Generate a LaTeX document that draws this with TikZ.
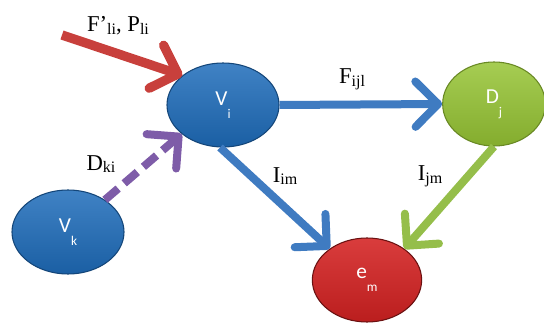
\documentclass[tikz,border=0pt]{standalone}
\usepackage{fontspec}
\setmainfont{Liberation Serif}
\newfontfamily\nodefont{Carlito}
\usetikzlibrary{arrows.meta,shapes.geometric}
\definecolor{nodeblue}{RGB}{30,108,186}
\definecolor{nodegreen}{RGB}{150,196,52}
\definecolor{nodered}{RGB}{212,34,34}
\definecolor{arrowred}{RGB}{200,64,60}
\definecolor{arrowblue}{RGB}{63,123,193}
\definecolor{arrowgreen}{RGB}{149,190,74}
\definecolor{arrowpurple}{RGB}{126,92,168}
\newcommand{\nodelabel}[2]{{\nodefont\fontsize{16}{16}\selectfont #1}\raisebox{-1.0em}{\nodefont\fontsize{10}{10}\selectfont #2}}
\newcommand{\flowlabel}[2]{#1\raisebox{-0.25ex}{\fontsize{12}{12}\selectfont #2}}
\tikzset{
  place/.style={ellipse, minimum width=84pt, minimum height=63pt, text=white, line width=0.8pt},
  flow/.style={line width=6pt, -{Straight Barb[length=17pt,width=34pt,round]}},
  flowtext/.style={font=\fontsize{17}{17}\selectfont, inner sep=0pt}
}
\begin{document}
\begin{tikzpicture}[x=0.75pt, y=-0.75pt]
            \useasboundingbox (0,0) rectangle (544,324);
            % define nodes
            \node[place, draw=nodeblue!65!black, top color=nodeblue!85!white, bottom color=nodeblue!88!black] (vi) at (223,105) {\nodelabel{V}{i}};
            \node[place, draw=nodegreen!70!black, top color=nodegreen!85!white, bottom color=nodegreen!88!black, minimum width=77pt] (dj) at (494,104) {\nodelabel{D}{j}};
            \node[place, draw=nodeblue!65!black, top color=nodeblue!85!white, bottom color=nodeblue!88!black] (vk) at (68,232) {\nodelabel{V}{k}};
            \node[place, draw=nodered!50!black, top color=nodered!88!white, bottom color=nodered!88!black, minimum width=82pt] (em) at (367,280) {\nodelabel{e}{m}};
            \coordinate (src) at (62,35);
            % flows
            \draw[flow, arrowred, line width=7pt] (src) -- (vi.144);
            \draw[flow, arrowblue] (vi.east) -- (dj.west);
            \draw[flow, arrowblue] (vi.266) -- (em.140);
            \draw[flow, arrowgreen] (dj.south) -- (em.40);
            \draw[flow, arrowpurple, dash pattern=on 13pt off 6pt] (vk.41) -- (vi.215);
            % labels
            \node[flowtext] (lbl-in) at (118,26) {\flowlabel{F’}{li}, \flowlabel{P}{li}};
            \node[flowtext] (lbl-fijl) at (352,79) {\flowlabel{F}{ijl}};
            \node[flowtext] (lbl-dki) at (101,164) {\flowlabel{D}{ki}};
            \node[flowtext] (lbl-iim) at (285,176) {\flowlabel{I}{im}};
            \node[flowtext] (lbl-ijm) at (430,176) {\flowlabel{I}{jm}};
        \end{tikzpicture}
\end{document}
